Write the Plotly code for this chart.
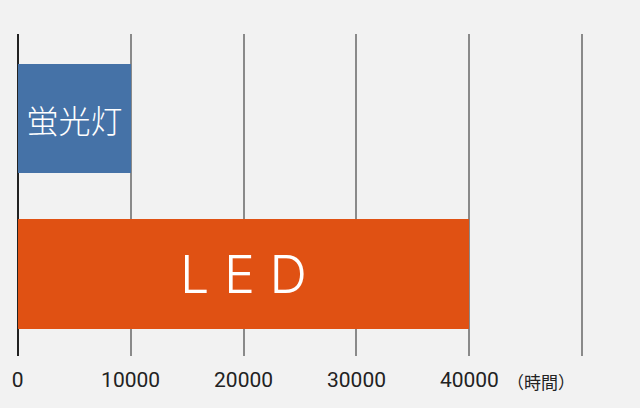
import plotly.graph_objects as go

categories = ["蛍光灯", "LED"]
bar_labels = ["蛍光灯", "L E D"]
hours = [10000, 40000]
tick_values = [0, 10000, 20000, 30000, 40000, 50000]
tick_labels = ["0", "10000", "20000", "30000", "40000", ""]
unit_label = "（時間）"

colors = ["#4572a7", "#e05113"]

fig = go.Figure()
fig.add_trace(go.Bar(
    y=categories,
    x=hours,
    orientation="h",
    marker=dict(color=colors, line=dict(width=0)),
    width=0.704,
    text=bar_labels,
    textposition="inside",
    insidetextanchor="middle",
    textangle=0,
    textfont=dict(
        color="#ffffff",
        size=[32, 52],
        family=["Noto Sans CJK JP", "Inter"],
        weight=[300, 300],
    ),
    constraintext="none",
    hoverinfo="skip",
))

fig.add_annotation(
    x=46300, y=0, xref="x", yref="paper",
    text=unit_label, showarrow=False,
    xanchor="center", yanchor="top", yshift=-11,
    font=dict(family="Noto Sans CJK JP", size=17, color="#222222"),
)

fig.update_layout(
    width=640, height=408,
    margin=dict(l=12.35, r=52.35, t=34, b=52, pad=0),
    paper_bgcolor="#f2f2f2",
    plot_bgcolor="#f2f2f2",
    showlegend=False,
    bargap=0,
)
fig.update_xaxes(
    range=[-500, 50500],
    tickvals=tick_values,
    ticktext=tick_labels,
    showgrid=True,
    gridcolor="#8a8a8a",
    gridwidth=1.5,
    zeroline=True,
    zerolinecolor="#222222",
    zerolinewidth=2,
    showline=False,
    ticks="",
    ticklabelstandoff=9,
    tickfont=dict(family="Roboto", size=21, color="#222222"),
)
fig.update_yaxes(
    type="category",
    categoryorder="array",
    categoryarray=categories,
    range=[1.527, -0.5434],
    showgrid=False,
    zeroline=False,
    showticklabels=False,
    ticks="",
)
fig.update_traces(cliponaxis=False)

fig.write_html(
    "out.html",
    config={"displayModeBar": False},
    post_script="document.body.style.margin='0';document.body.style.background='#f2f2f2';",
)
